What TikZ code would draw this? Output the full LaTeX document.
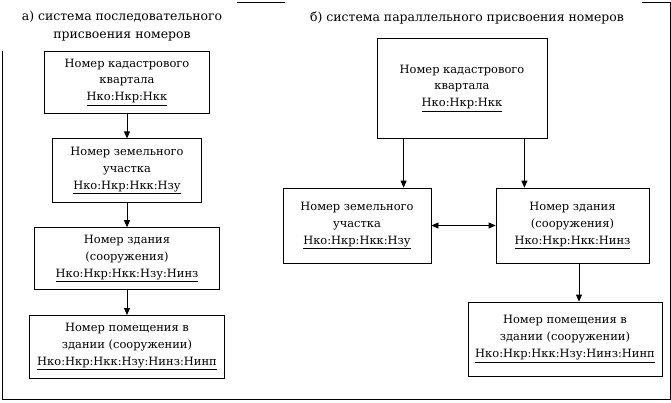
\documentclass[tikz,border=0pt]{standalone}
\usepackage{fontspec}
\setmainfont{DejaVu Serif}
\usetikzlibrary{positioning,arrows.meta}

\tikzset{
    numbox/.style={draw, line width=0.8bp, align=center, inner sep=2bp,
        font=\fontsize{11.5}{17}\selectfont},
    arr/.style={line width=0.8bp, -{Triangle[length=7bp,width=6bp]}},
    twoarr/.style={line width=0.8bp, {Triangle[length=7bp,width=6bp]}-{Triangle[length=7bp,width=6bp]}},
    ttl/.style={align=center, inner sep=0pt, font=\fontsize{12.5}{18}\selectfont},
}

\begin{document}
\begin{tikzpicture}[x=1bp, y=-1bp]
    \useasboundingbox (0,0) rectangle (671,402);

    % frame
    \draw[line width=1bp] (2,51) -- (2,399) -- (670,399) -- (670,2) -- (642,2);
    \draw[line width=1bp] (237,2) -- (285,2);

    \node[ttl] (ta) at (122,26) {а) система последовательного\\присвоения номеров};
    \node[ttl] (tb) at (467,18) {б) система параллельного присвоения номеров};

    % a)
    \node[numbox, minimum width=165bp, minimum height=62bp] (q1) at (127,82)
        {Номер кадастрового\\квартала\\\underline{Нко:Нкр:Нкк}};
    \node[numbox, minimum width=149bp, minimum height=64bp, below=25bp of q1] (q2)
        {Номер земельного\\участка\\\underline{Нко:Нкр:Нкк:Нзу}};
    \node[numbox, minimum width=185bp, minimum height=62bp, below=24bp of q2] (q3)
        {Номер здания\\(сооружения)\\\underline{Нко:Нкр:Нкк:Нзу:Нинз}};
    \node[numbox, minimum width=195bp, minimum height=63bp, below=25bp of q3] (q4)
        {Номер помещения в\\здании (сооружении)\\\underline{Нко:Нкр:Нкк:Нзу:Нинз:Нинп}};

    \draw[arr] (q1) -- (q2);
    \draw[arr] (q2) -- (q3);
    \draw[arr] (q3) -- (q4);

    % b)
    \node[numbox, minimum width=170bp, minimum height=100bp] (p1) at (462,88)
        {Номер кадастрового\\квартала\\\underline{Нко:Нкр:Нкк}};
    \node[numbox, minimum width=148bp, minimum height=75bp] (p2) at (357,225.5)
        {Номер земельного\\участка\\\underline{Нко:Нкр:Нкк:Нзу}};
    \node[numbox, minimum width=153bp, minimum height=75bp] (p3) at (572.5,225.5)
        {Номер здания\\(сооружения)\\\underline{Нко:Нкр:Нкк:Нинз}};
    \node[numbox, minimum width=194bp, minimum height=74bp] (p4) at (565,339)
        {Номер помещения в\\здании (сооружении)\\\underline{Нко:Нкр:Нкк:Нзу:Нинз:Нинп}};

    \draw[arr] ([xshift=27bp]p1.south west) -- ([xshift=27bp]p1.south west |- p2.north);
    \draw[arr] ([xshift=-23bp]p1.south east) -- ([xshift=-23bp]p1.south east |- p3.north);
    \draw[twoarr] (p2) -- (p3);
    \draw[arr] ([xshift=6.5bp]p3.south) -- ([xshift=6.5bp]p3.south |- p4.north);
\end{tikzpicture}
\end{document}
